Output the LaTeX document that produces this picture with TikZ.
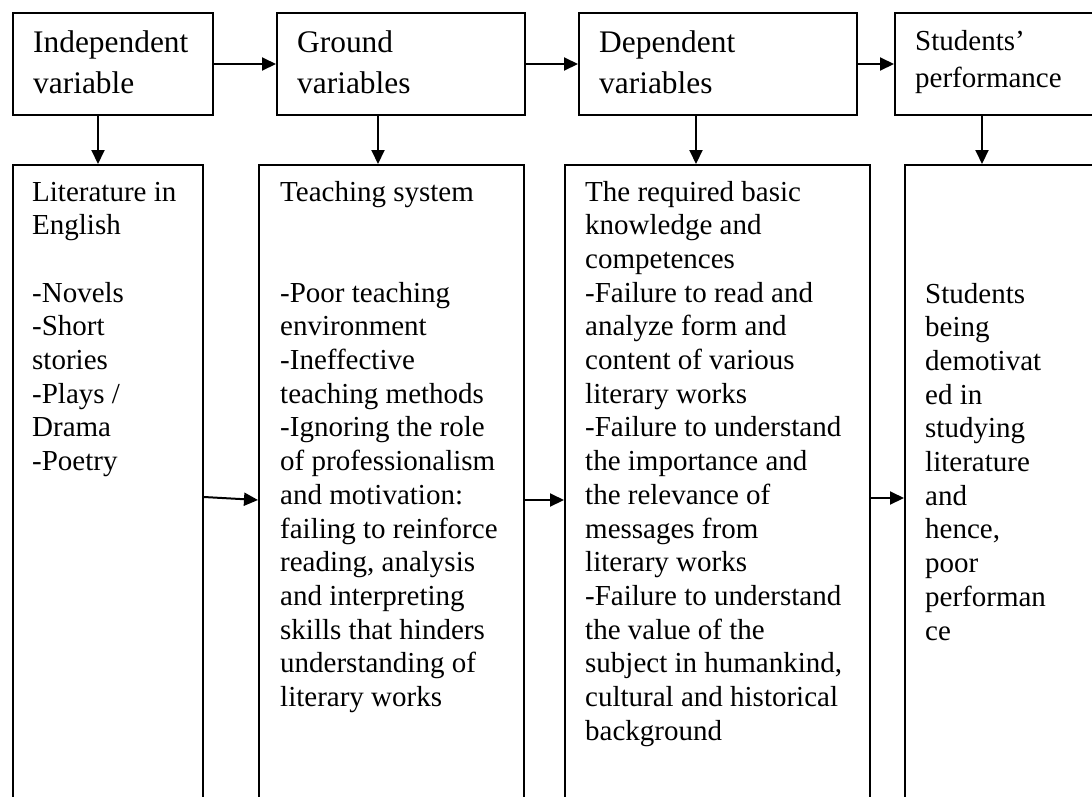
\documentclass[tikz,border=0pt]{standalone}
\usepackage{fontspec}
\setmainfont{Liberation Serif}
\usetikzlibrary{arrows.meta}
\tikzset{
  box/.style={draw=black, line width=2pt, rectangle, inner sep=0pt, anchor=north west},
  arr/.style={line width=2pt, -{Triangle[length=14pt,width=13pt]}},
  toptext/.style={anchor=base west, align=left, inner sep=0pt, font=\fontsize{31.4}{41}\selectfont},
  smalltop/.style={anchor=base west, align=left, inner sep=0pt, font=\fontsize{29}{37}\selectfont},
  bodytext/.style={anchor=base west, align=left, inner sep=0pt, font=\fontsize{29}{33.7}\selectfont}
}
\begin{document}
\begin{tikzpicture}[x=1pt,y=-1pt]
\useasboundingbox (0,0) rectangle (1092,796);
\clip (0,0) rectangle (1092,796);
\fill[white] (0,0) rectangle (1092,796);

% top boxes
\node[box, minimum width=200pt, minimum height=102pt] (t1) at (12,12) {};
\node[box, minimum width=248pt, minimum height=102pt] (t2) at (276,12) {};
\node[box, minimum width=278pt, minimum height=102pt] (t3) at (578,12) {};
\node[box, minimum width=240pt, minimum height=102pt] (t4) at (894,12) {};

% bottom boxes
\node[box, minimum width=190pt, minimum height=700pt] (b1) at (12,164) {};
\node[box, minimum width=265pt, minimum height=700pt] (b2) at (258,164) {};
\node[box, minimum width=305pt, minimum height=700pt] (b3) at (564,164) {};
\node[box, minimum width=240pt, minimum height=700pt] (b4) at (904,164) {};

% top texts (anchor = baseline of the last line)
\node[toptext] (tt1) at (33,93) {Independent\\variable};
\node[toptext] (tt2) at (297,93) {Ground\\variables};
\node[toptext] (tt3) at (599,93) {Dependent\\variables};
\node[smalltop] (tt4) at (915,87) {Students’\\performance};

% bottom texts (anchor = baseline of the last line)
\node[bodytext] (bt1) at (32,470.6) {Literature in\\English\\\mbox{}\\-Novels\\-Short\\stories\\-Plays /\\Drama\\-Poetry};
\node[bodytext] (bt2) at (280,706.5) {Teaching system\\\mbox{}\\\mbox{}\\-Poor teaching\\environment\\-Ineffective\\teaching methods\\-Ignoring the role\\of professionalism\\and motivation:\\failing to reinforce\\reading, analysis\\and interpreting\\skills that hinders\\understanding of\\literary works};
\node[bodytext] (bt3) at (585,740.2) {The required basic\\knowledge and\\competences\\-Failure to read and\\analyze form and\\content of various\\literary works\\-Failure to understand\\the importance and\\the relevance of\\messages from\\literary works\\-Failure to understand\\the value of the\\subject in humankind,\\cultural and historical\\background};
\node[bodytext] (bt4) at (925,640) {Students\\being\\demotivat\\ed in\\studying\\literature\\and\\hence,\\poor\\performan\\ce};

% horizontal arrows, top row
\draw[arr] (t1.east) -- (t2.west);
\draw[arr] (t2.east) -- (t3.west);
\draw[arr] (t3.east) -- (t4.west);

% vertical arrows
\coordinate (d1) at (98,0);
\coordinate (d2) at (378,0);
\coordinate (d3) at (696,0);
\coordinate (d4) at (982,0);
\draw[arr] (t1.south -| d1) -- (b1.north -| d1);
\draw[arr] (t2.south -| d2) -- (b2.north -| d2);
\draw[arr] (t3.south -| d3) -- (b3.north -| d3);
\draw[arr] (t4.south -| d4) -- (b4.north -| d4);

% horizontal arrows, bottom row
\coordinate (ha) at (0,497);
\coordinate (hb) at (0,500);
\coordinate (hc) at (0,498);
\draw[arr] (b1.east |- ha) -- (b2.west |- hb);
\draw[arr] (b2.east |- hb) -- (b3.west |- hb);
\draw[arr] (b3.east |- hc) -- (b4.west |- hc);
\end{tikzpicture}
\end{document}
